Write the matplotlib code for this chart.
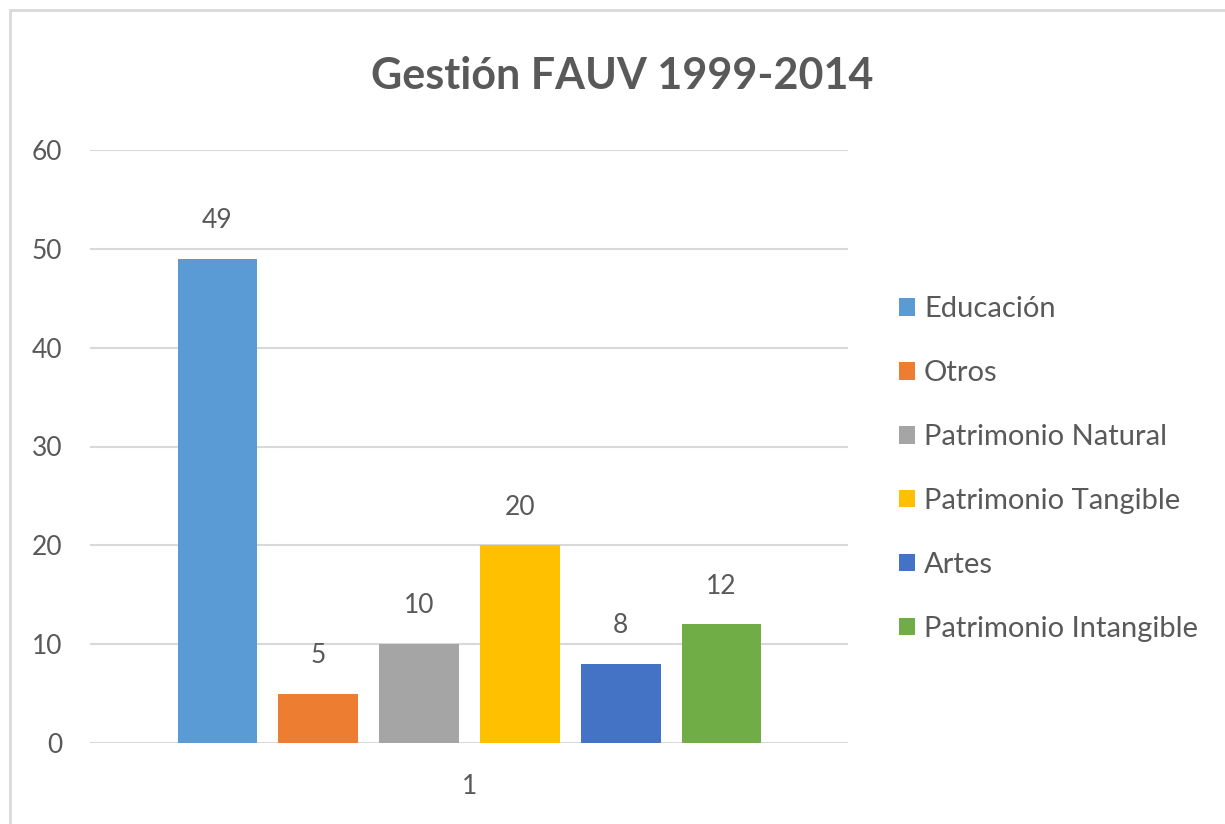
import matplotlib.pyplot as plt
from matplotlib.patches import Rectangle

plt.rcParams['font.family'] = ['Lato', 'DejaVu Sans']

# datos
categorias = ['Educación', 'Otros', 'Patrimonio Natural', 'Patrimonio Tangible',
              'Artes', 'Patrimonio Intangible']
valores = [49, 5, 10, 20, 8, 12]
colores = ['#5B9BD5', '#ED7D31', '#A5A5A5', '#FFC000', '#4472C4', '#70AD47']
grupo = 1

gris = '#595959'

fig = plt.figure(figsize=(12.25, 8.24), dpi=100)
# borde del área del gráfico
fig.patches.append(Rectangle((10 / 1225, -0.1), 1.2, 1 - 10 / 824 + 0.1,
                             transform=fig.transFigure, fill=False,
                             edgecolor='#D9D9D9', linewidth=2))

ax = fig.add_axes([90 / 1225, 1 - 743 / 824, (848 - 90) / 1225, (743 - 150) / 824])

paso = 0.1
ancho = 0.079
for i, (cat, v, c) in enumerate(zip(categorias, valores, colores)):
    x = grupo + (i - 2.5) * paso
    ax.bar(x, v, width=ancho, color=c, label=cat, zorder=3)
    ax.text(x, v + 2.6, str(v), ha='center', va='bottom', fontsize=19, color=gris)

# posiciones en px -> datos
centro_px = 469.5
px_por_paso = 100.8
ax.set_xlim(grupo + (90 - centro_px) / px_por_paso * paso,
            grupo + (848 - centro_px) / px_por_paso * paso)
ax.set_ylim(0, 60)
ax.set_yticks(range(0, 61, 10))
ax.set_xticks([grupo])
ax.set_xticklabels(['1'])
ax.tick_params(axis='both', length=0, labelsize=19, colors=gris)
ax.tick_params(axis='y', pad=20)
ax.tick_params(axis='x', pad=22)
ax.grid(axis='y', color='#D9D9D9', linewidth=1.5, zorder=0)
for s in ax.spines.values():
    s.set_visible(False)

fig.text(622 / 1225, 1 - 76 / 824, 'Gestión FAUV 1999-2014', ha='center', va='center',
         fontsize=31, fontweight='bold', color=gris)

leg = ax.legend(loc='upper left', bbox_to_anchor=(873 / 1225, 1 - 270 / 824),
                bbox_transform=fig.transFigure, frameon=False, fontsize=21,
                labelcolor=gris, handlelength=0.55, handleheight=0.55,
                handletextpad=0.3, labelspacing=1.3)

fig.savefig('out.png', dpi=100)
